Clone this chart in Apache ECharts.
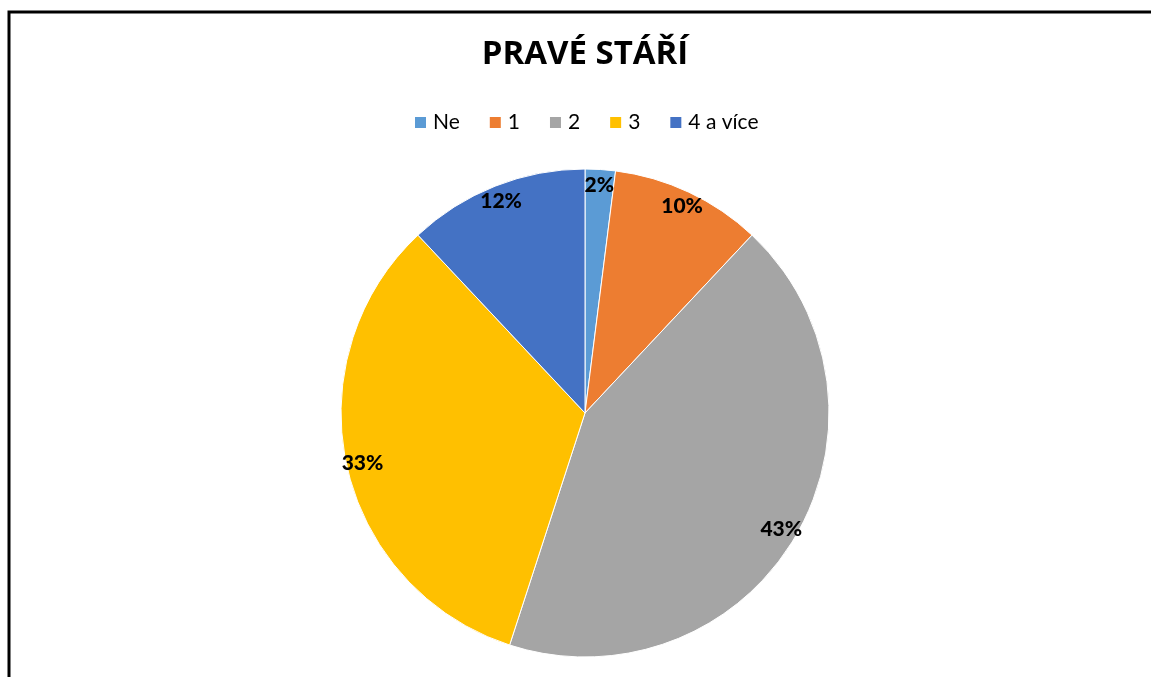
<!DOCTYPE html>
<html>
<head>
<meta charset="utf-8">
<script src="https://cdn.jsdelivr.net/npm/echarts@6/dist/echarts.min.js"></script>
<style>
  html, body { margin: 0; padding: 0; background: #fff; }
  #chart { width: 1151px; height: 677px; }
</style>
</head>
<body>
<div id="chart"></div>
<script>
// Počet dětí – podíly odpovědí
const categories = ['Ne', '1', '2', '3', '4 a více'];
const values = [2, 10, 43, 33, 12];
const colors = ['#5B9BD5', '#ED7D31', '#A5A5A5', '#FFC000', '#4472C4'];
const titleText = 'PRAVÉ STÁŘÍ';

const FONT = 'Lato, "Open Sans", sans-serif';
const data = categories.map((name, i) => ({ name, value: values[i] }));
const total = values.reduce((a, b) => a + b, 0);

const chart = echarts.init(document.getElementById('chart'), null, { renderer: 'canvas' });
chart.setOption({
  animation: false,
  backgroundColor: '#ffffff',
  color: colors,
  title: {
    text: titleText,
    left: 580,
    textAlign: 'center',
    top: 33,
    textStyle: { fontFamily: '"Open Sans", sans-serif', fontSize: 33, fontWeight: 'bold', color: '#000' }
  },
  legend: {
    data: categories,
    left: 408,
    top: 107,
    icon: 'rect',
    itemWidth: 13,
    itemHeight: 13,
    itemGap: 28,
    textStyle: { fontFamily: FONT, fontSize: 21, color: '#000', padding: [0, 0, 0, 1] }
  },
  graphic: [{
    type: 'rect',
    silent: true,
    shape: { x: 9, y: 12, width: 1200, height: 720 },
    style: { fill: 'none', stroke: '#000', lineWidth: 3 }
  }],
  series: [
    {
      type: 'pie',
      center: [585, 413],
      radius: [0, 244],
      startAngle: 90,
      clockwise: true,
      data: data,
      itemStyle: { borderColor: '#ffffff', borderWidth: 1 },
      label: { show: false },
      labelLine: { show: false },
      emphasis: { disabled: true }
    },
    {
      // label ring: percentage text placed near the outer edge of each slice
      type: 'pie',
      center: [585, 413],
      radius: [206, 244],
      startAngle: 90,
      clockwise: true,
      silent: true,
      data: data,
      itemStyle: { color: 'transparent' },
      label: {
        show: true,
        position: 'inside',
        formatter: p => Math.round(p.value / total * 100) + '%',
        fontFamily: FONT,
        fontSize: 21,
        fontWeight: 900,
        color: '#000'
      },
      labelLine: { show: false },
      emphasis: { disabled: true },
      legendHoverLink: false
    }
  ]
});
</script>
</body>
</html>
